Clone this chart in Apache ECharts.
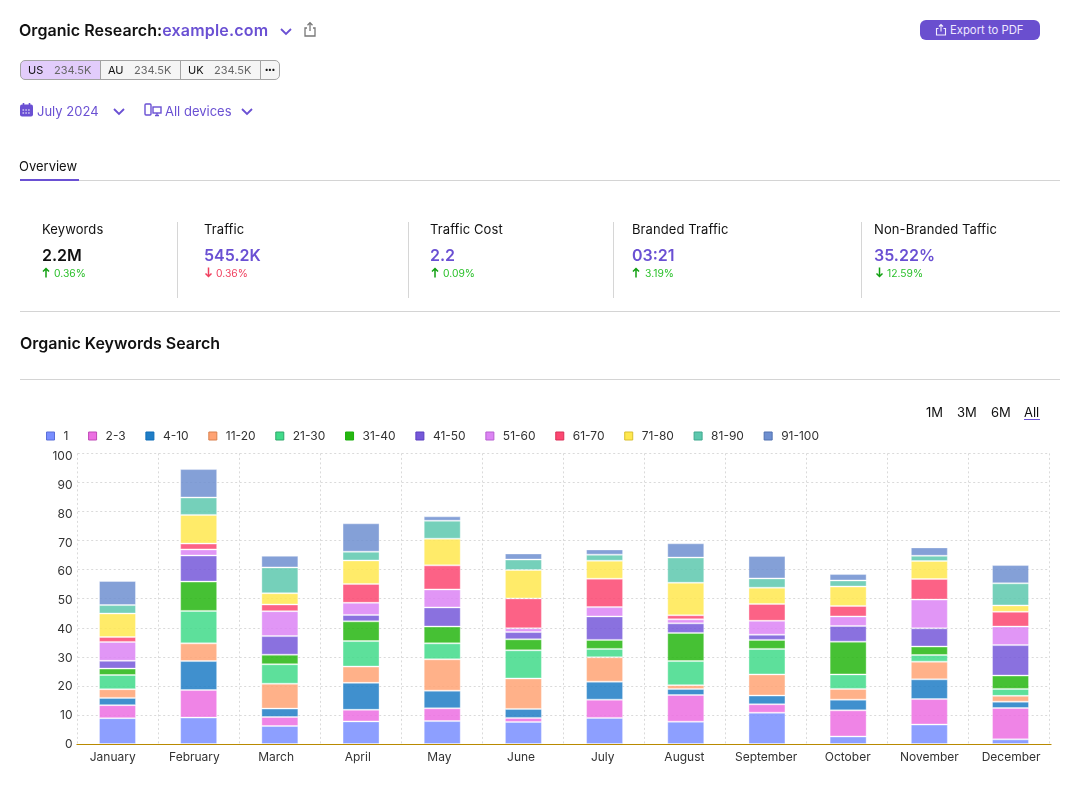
<!DOCTYPE html>
<html>
<head>
<meta charset="utf-8">
<title>Organic Research</title>
<script src="https://cdn.jsdelivr.net/npm/echarts@6/dist/echarts.min.js"></script>
<style>
html, body { margin: 0; padding: 0; background: #fff; }
body { font-family: Inter, "Noto Sans", sans-serif; color: #111; }
#page { position: relative; width: 1080px; height: 800px; overflow: hidden; }
#idChart { position: absolute; left: 0; top: 0; width: 1080px; height: 800px; }
.t { position: absolute; white-space: nowrap; line-height: 16px; }
.p { color: #6a50d3; }
.rule { position: absolute; height: 1px; background: #d4d4d4; }
.sep { position: absolute; width: 1px; top: 222px; height: 76px; background: #d6d6d6; }
svg { position: absolute; fill: none; }
.seg { position: absolute; top: 60px; height: 18px; border: 1px solid #a3a3a3; background: #f5f5f5; font-size: 11px; line-height: 18px; box-sizing: content-box; }
.seg b { position: absolute; left: 7px; font-weight: 400; color: #111; }
.seg i { position: absolute; left: 33px; font-style: normal; color: #666; }
.up { color: #2ac02a; }
.dn { color: #f0405f; }
</style>
</head>
<body>
<div id="page">
  <div id="idChart"></div>

  <div class="t" style="left:19px;top:22px;font-size:16px;font-weight:600;letter-spacing:0.05px">Organic Research:<span class="p" style="letter-spacing:0.2px">example.com</span></div>
  <svg style="left:279px;top:27px" width="14" height="9" viewBox="0 0 14 9"><path d="M2 2l5 5 5-5" stroke="#6a50d3" stroke-width="1.8"/></svg>
  <svg style="left:303px;top:21px" width="14" height="16" viewBox="0 0 14 16"><path d="M4 7H2v8h10V7h-2M7 10V2M4.5 4.2L7 1.6l2.5 2.6" stroke="#777" stroke-width="1.3"/></svg>

  <div style="position:absolute;left:920px;top:20px;width:120px;height:20px;border-radius:6px;background:#6a4fcf"></div>
  <svg style="left:935px;top:23px" width="12" height="14" viewBox="0 0 12 14"><path d="M3.5 5.5H1.5v6.5h9V5.5h-2M6 8.5V1.5M4 3.5l2-2 2 2" stroke="#f3eeff" stroke-width="1.1"/></svg>
  <div class="t" style="left:950px;top:22px;font-size:11.3px;color:#efe8ff">Export to PDF</div>

  <div class="seg" style="left:20px;width:79px;background:#e2ccfb;border-radius:5px 0 0 5px"><b>US</b><i>234.5K</i></div>
  <div class="seg" style="left:100px;width:79px"><b>AU</b><i>234.5K</i></div>
  <div class="seg" style="left:180px;width:79px"><b>UK</b><i>234.5K</i></div>
  <div class="seg" style="left:260px;width:18px;border-radius:0 5px 5px 0;text-align:center;font-size:7px;font-weight:700;line-height:17px;letter-spacing:0">•••</div>

  <svg style="left:20px;top:103px" width="13" height="15" viewBox="0 0 13 15"><path d="M3.5 0v3M9.5 0v3" stroke="#6a50d3" stroke-width="1.6"/><rect x="0" y="1.5" width="13" height="12" rx="2" fill="#6a50d3"/><path d="M2.5 7h8M2.5 10h8" stroke="#fff" stroke-width="1.2" stroke-dasharray="1.6 1.2"/></svg>
  <div class="t p" style="left:37px;top:103px;font-size:13px">July 2024</div>
  <svg style="left:112px;top:107px" width="14" height="9" viewBox="0 0 14 9"><path d="M2 2l5 5 5-5" stroke="#6a50d3" stroke-width="1.8"/></svg>
  <svg style="left:144px;top:103px" width="18" height="14" viewBox="0 0 18 14"><rect x="1" y="1" width="6" height="11" rx="1" stroke="#6a50d3" stroke-width="1.4"/><rect x="9" y="4" width="8" height="6" stroke="#6a50d3" stroke-width="1.4"/><path d="M11 12.5h4M13 10v2" stroke="#6a50d3" stroke-width="1.3"/></svg>
  <div class="t p" style="left:165px;top:103px;font-size:13px">All devices</div>
  <svg style="left:240px;top:107px" width="14" height="9" viewBox="0 0 14 9"><path d="M2 2l5 5 5-5" stroke="#6a50d3" stroke-width="1.8"/></svg>

  <div class="t" style="left:19px;top:158px;font-size:13px">Overview</div>
  <div class="rule" style="left:20px;top:180px;width:1040px"></div>
  <div style="position:absolute;left:20px;top:179px;width:59px;height:2px;background:#6a50d3"></div>

  <div class="sep" style="left:177px"></div>
  <div class="sep" style="left:408px"></div>
  <div class="sep" style="left:613px"></div>
  <div class="sep" style="left:861px"></div>

  <div class="t" style="left:42px;top:221px;font-size:13px;letter-spacing:0.1px">Keywords</div>
  <div class="t" style="left:42px;top:247px;font-size:16px;font-weight:600">2.2M</div>
  <svg style="left:42px;top:267px" width="8" height="11" viewBox="0 0 8 11"><path d="M4 10.5V1.5M1 4.5l3-3 3 3" stroke="#12a012" stroke-width="1.5"/></svg>
  <div class="t up" style="left:54px;top:265px;font-size:10.3px">0.36%</div>

  <div class="t" style="left:204px;top:221px;font-size:13px;letter-spacing:0.1px">Traffic</div>
  <div class="t p" style="left:204px;top:247px;font-size:16px;font-weight:600">545.2K</div>
  <svg style="left:204px;top:267px" width="9" height="11" viewBox="0 0 9 11"><path d="M4.5 0.5v9M1.5 6.5l3 3 3-3" stroke="#f0405f" stroke-width="1.5"/></svg>
  <div class="t dn" style="left:216px;top:265px;font-size:10.3px">0.36%</div>

  <div class="t" style="left:430px;top:221px;font-size:13px;letter-spacing:0.1px">Traffic Cost</div>
  <div class="t p" style="left:430px;top:247px;font-size:16px;font-weight:600">2.2</div>
  <svg style="left:431px;top:267px" width="8" height="11" viewBox="0 0 8 11"><path d="M4 10.5V1.5M1 4.5l3-3 3 3" stroke="#12a012" stroke-width="1.5"/></svg>
  <div class="t up" style="left:443px;top:265px;font-size:10.3px">0.09%</div>

  <div class="t" style="left:632px;top:221px;font-size:13px;letter-spacing:0.1px">Branded Traffic</div>
  <div class="t p" style="left:632px;top:247px;font-size:16px;font-weight:600">03:21</div>
  <svg style="left:632px;top:267px" width="8" height="11" viewBox="0 0 8 11"><path d="M4 10.5V1.5M1 4.5l3-3 3 3" stroke="#12a012" stroke-width="1.5"/></svg>
  <div class="t up" style="left:645px;top:265px;font-size:10.3px">3.19%</div>

  <div class="t" style="left:874px;top:221px;font-size:13px;letter-spacing:0.1px">Non-Branded Taffic</div>
  <div class="t p" style="left:874px;top:247px;font-size:16px;font-weight:600">35.22%</div>
  <svg style="left:875px;top:267px" width="9" height="11" viewBox="0 0 9 11"><path d="M4.5 0.5v9M1.5 6.5l3 3 3-3" stroke="#12a012" stroke-width="1.5"/></svg>
  <div class="t up" style="left:887px;top:265px;font-size:10.3px">12.59%</div>

  <div class="rule" style="left:20px;top:311px;width:1040px"></div>
  <div class="t" style="left:20px;top:335px;font-size:16px;font-weight:600">Organic Keywords Search</div>
  <div class="rule" style="left:20px;top:379px;width:1040px"></div>

  <div class="t" style="left:926px;top:404px;font-size:13px">1M</div>
  <div class="t" style="left:957px;top:404px;font-size:13px">3M</div>
  <div class="t" style="left:991px;top:404px;font-size:13px">6M</div>
  <div class="t" style="left:1024px;top:404px;font-size:13px">All</div>
  <div style="position:absolute;left:1024px;top:419px;width:16px;height:1px;background:#6a50d3"></div>
</div>

<script>
var categories = ['January','February','March','April','May','June','July','August','September','October','November','December'];
var seriesNames = ['1','2-3','4-10','11-20','21-30','31-40','41-50','51-60','61-70','71-80','81-90','91-100'];
var yTicks = [0,10,20,30,40,50,60,70,80,90,100];

var pos1 = [8.9,9.1,6.2,7.8,7.9,7.6,9,7.7,10.8,2.6,6.7,1.6];
var pos2to3 = [4.5,9.5,3.1,4,4.4,1.4,6.3,9.2,2.9,9,8.8,10.8];
var pos4to10 = [2.5,10,2.9,9.3,6.1,3.1,6.2,2.1,3,3.7,6.8,2.2];
var pos11to20 = [3,6.1,8.6,5.6,10.8,10.5,8.4,1.3,7.3,3.7,6.1,2];
var pos21to30 = [4.9,11.2,6.7,8.8,5.5,9.7,2.9,8.3,8.8,5,2.3,2.4];
var pos31to40 = [2.2,10.1,3.3,6.8,5.8,3.8,3.1,9.7,3.1,11.3,2.9,4.6];
var pos41to50 = [2.7,9,6.4,2.2,6.6,2.5,8.1,3.3,1.8,5.4,6.3,10.5];
var pos51to60 = [6.5,2.1,8.6,4.2,6.2,1.3,3.2,1.4,4.8,3.3,9.9,6.4];
var pos61to70 = [1.7,2,2.3,6.5,8.3,10.3,9.8,1.4,5.8,3.6,7.1,5.1];
var pos71to80 = [8.1,9.9,3.9,8.1,9.2,9.8,6.2,11.2,5.6,6.7,6.2,2.2];
var pos81to90 = [2.9,6,8.9,3,6.2,3.6,2.1,8.7,3.2,2.1,1.8,7.6];
var pos91to100 = [8.3,9.8,4,9.8,1.5,2.1,1.8,4.9,7.7,2.2,2.9,6.3];

var seriesValues = [pos1,pos2to3,pos4to10,pos11to20,pos21to30,pos31to40,pos41to50,pos51to60,pos61to70,pos71to80,pos81to90,pos91to100];

var colors = ['#798eff','#ec6fe2','#1f7dc6','#ffa374','#41db8a','#26b610','#7558d9','#dc84f4','#fc4771','#ffe84f','#5dc8ae','#6e8fd0'];
var legendBorders = ['#5a6fd8','#c04ab8','#0e6db8','#d9804e','#2fa76a','#1aaf0c','#5a3fc0','#b860d0','#d93058','#d9bf30','#3fa88e','#5070b0'];

var myChart = echarts.init(document.getElementById('idChart'));

var seriesList = [];
var legendData = [];
for (var i = 0; i < seriesNames.length; i++) {
	seriesList.push({
		name: seriesNames[i],
		type: 'bar',
		stack: 'total',
		barWidth: 37,
		xAxisIndex: 0,
		yAxisIndex: 0,
		itemStyle: {
			color: colors[i],
			opacity: 0.85,
			borderColor: 'rgba(255,255,255,0.4)',
			borderWidth: 1
		},
		data: seriesValues[i]
	});
	legendData.push({
		name: seriesNames[i],
		itemStyle: { color: colors[i], opacity: 1, borderColor: legendBorders[i], borderWidth: 1 }
	});
}

var dotted = { color: '#dadada', width: 1, type: [2, 2.5] };

var Options = {
	animation: false,
	textStyle: { fontFamily: 'Inter' },
	legend: {
		left: 46,
		top: 430,
		padding: 0,
		icon: 'rect',
		itemWidth: 8,
		itemHeight: 8,
		itemGap: 19.7,
		selectedMode: false,
		textStyle: { fontFamily: 'Inter', fontSize: 12, color: '#333', padding: [0, 0, 0, 4] },
		data: legendData
	},
	// bars, gridlines and axis labels do not share one spacing in the picture
	grid: [
		{ left: 76.9, top: 454, width: 974.2, height: 290 },
		{ left: 77.7, top: 453.4, width: 971.6, height: 290.6 },
		{ left: 71.9, top: 456.7, width: 980, height: 287.6 }
	],
	xAxis: [
		{
			gridIndex: 0, type: 'category', data: categories, z: 10,
			axisLine: { lineStyle: { color: '#b98a00', width: 1 } },
			axisTick: { show: false }, axisLabel: { show: false }, splitLine: { show: false }
		},
		{
			gridIndex: 1, type: 'category', data: categories,
			axisLine: { show: false }, axisTick: { show: false }, axisLabel: { show: false },
			splitLine: { show: true, interval: 0, lineStyle: dotted }
		},
		{
			gridIndex: 2, type: 'category', data: categories,
			axisLine: { show: false }, axisTick: { show: false },
			axisLabel: { interval: 0, margin: 7, fontFamily: 'Inter', fontSize: 12, color: '#333' },
			splitLine: { show: false }
		}
	],
	yAxis: [
		{ gridIndex: 0, type: 'value', min: 0, max: 100, show: false },
		{
			gridIndex: 1, type: 'value', min: 0, max: 100, interval: 10,
			axisLine: { show: false }, axisTick: { show: false }, axisLabel: { show: false },
			splitLine: { show: true, lineStyle: dotted }
		},
		{
			gridIndex: 2, type: 'value', min: yTicks[0], max: yTicks[yTicks.length - 1], interval: 10,
			axisLine: { show: false }, axisTick: { show: false }, splitLine: { show: false },
			axisLabel: { margin: -0.6, fontFamily: 'Inter', fontSize: 12, color: '#333' }
		}
	],
	series: seriesList
};

myChart.setOption(Options);
</script>
</body>
</html>
